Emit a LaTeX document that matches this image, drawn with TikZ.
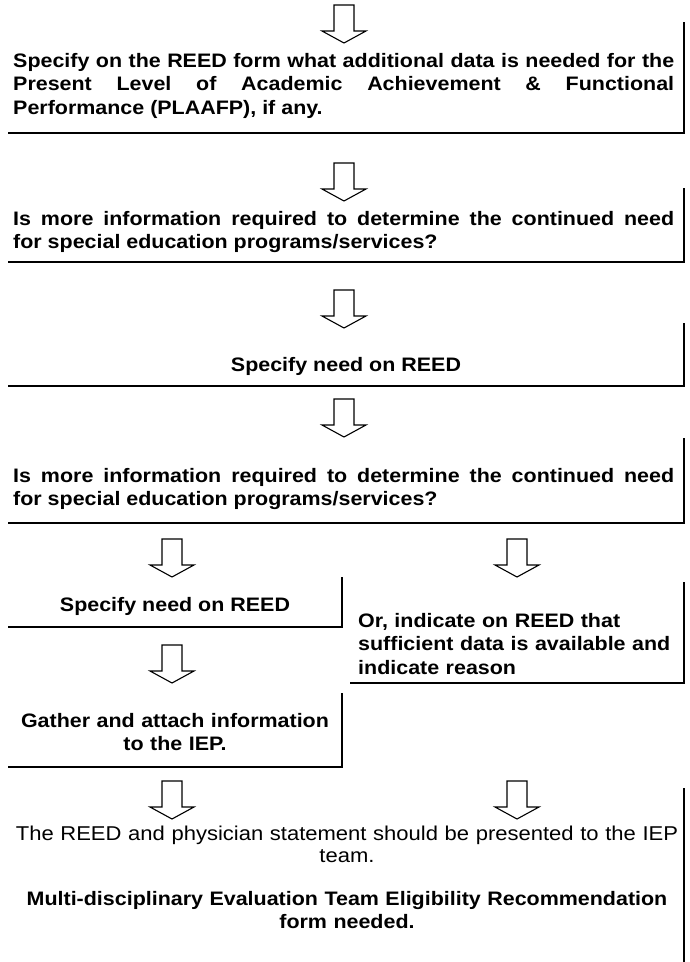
\documentclass[tikz,border=0pt]{standalone}
\usepackage{fontspec}
\setmainfont[FakeStretch=1.1]{Liberation Sans}
\hyphenpenalty=10000\relax
\exhyphenpenalty=10000\relax
\newcommand\blockarr[2]{%
  \draw[blk] (#1-10,#2) -- (#1+10,#2) -- (#1+10,#2+26) -- (#1+22,#2+26) -- (#1,#2+38) -- (#1-22,#2+26) -- (#1-10,#2+26) -- cycle;}
\begin{document}
\begin{tikzpicture}[x=1pt,y=-1pt,
  boxline/.style={line width=1.8pt},
  blk/.style={draw, line width=1.1pt, fill=white},
  bt/.style={inner sep=0pt, font=\fontsize{19.5}{23.5}\selectfont\bfseries},
  rt/.style={inner sep=0pt, font=\fontsize{20}{22}\selectfont},
  jst/.style={bt, anchor=base west, align=justify, text width=661pt},
  ctr/.style={anchor=base, align=center}]
\useasboundingbox (0,0) rectangle (689,962);
% arrows
\blockarr{344}{5}
\blockarr{344}{163}
\blockarr{344}{290}
\blockarr{344}{399}
\blockarr{172}{539}
\blockarr{517}{539}
\blockarr{172}{645}
\blockarr{172}{781}
\blockarr{517}{781}
% box 1
\node[jst] (t1) at (13,67) {Specify on the REED form what additional data is needed for the\linebreak Present Level of Academic Achievement \& Functional\linebreak Performance (PLAAFP), if any.};
\draw[boxline] (8,133) -- (684,133) -- (684,22);
% box 2
\node[jst] (t2) at (13,225) {Is more information required to determine the continued need\linebreak for special education programs/services?};
\draw[boxline] (8,262) -- (684,262) -- (684,188);
% box 3
\node[bt, ctr] (t3) at (346,371) {Specify need on REED};
\draw[boxline] (8,386) -- (684,386) -- (684,323);
% box 4
\node[jst] (t4) at (13,482) {Is more information required to determine the continued need\linebreak for special education programs/services?};
\draw[boxline] (8,523) -- (684,523) -- (684,438);
% box 5 left
\node[bt, ctr] (t5l) at (175,611) {Specify need on REED};
\draw[boxline] (8,627) -- (342,627) -- (342,577);
% box 5 right
\node[bt, anchor=base west, align=left, text width=326pt] (t5r) at (358,627) {Or, indicate on REED that\\ sufficient data is available and\\ indicate reason};
\draw[boxline] (350,683) -- (684,683) -- (684,582);
% box 6
\node[bt, ctr, text width=334pt] (t6) at (175,727) {Gather and attach information\\ to the IEP.};
\draw[boxline] (8,767) -- (342,767) -- (342,693);
% box 7
\node[rt, ctr, text width=680pt] (t7a) at (347,840) {The REED and physician statement should be presented to the IEP\\ team.};
\node[bt, ctr, text width=680pt] (t7b) at (347,905) {Multi-disciplinary Evaluation Team Eligibility Recommendation\\ form needed.};
\draw[boxline] (684,962) -- (684,788);
\end{tikzpicture}
\end{document}
